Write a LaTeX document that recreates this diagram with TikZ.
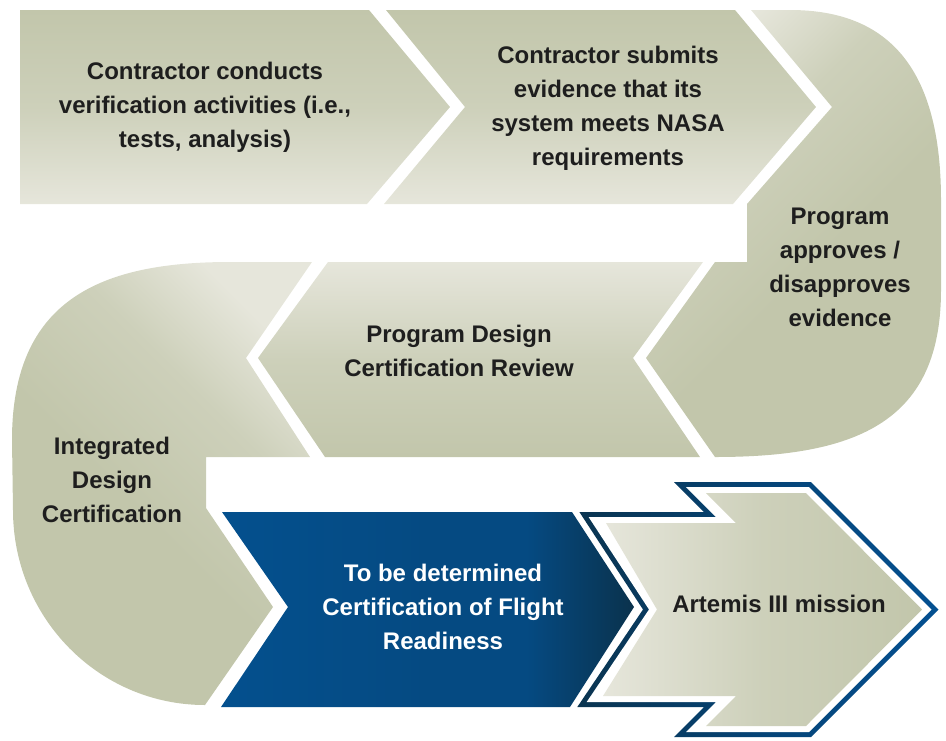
\documentclass[tikz,border=0pt]{standalone}
\usepackage{fontspec}
\setmainfont{Liberation Sans}
\definecolor{olD}{RGB}{194,198,171}
\definecolor{olL}{RGB}{230,230,219}
\definecolor{olM}{RGB}{205,208,186}
\definecolor{txt}{RGB}{30,30,30}
\definecolor{blL}{RGB}{4,80,142}
\definecolor{blM}{RGB}{5,74,130}
\definecolor{blR}{RGB}{10,50,76}
\definecolor{ouL}{RGB}{10,52,80}
\definecolor{ouM}{RGB}{6,68,118}
\definecolor{ouR}{RGB}{4,80,145}
\pgfdeclareverticalshading{oldiag}{100bp}{color(0bp)=(olD); color(25bp)=(olD);
  color(45bp)=(olD); color(62bp)=(olM); color(75bp)=(olL); color(100bp)=(olL)}
\pgfdeclarehorizontalshading{bluebar}{100bp}{color(0bp)=(blL); color(25bp)=(blL);
  color(50bp)=(blM); color(62bp)=(blM); color(75bp)=(blR); color(100bp)=(blR)}
\begin{document}
\begin{tikzpicture}[x=1pt,y=-1pt,
  lbl/.style={align=center, font=\fontsize{24}{34}\selectfont\bfseries, text=txt, inner sep=0pt},
  wlbl/.style={lbl, text=white}]
\useasboundingbox (0,0) rectangle (946,740);
% step 1
\shade[top color=olD, bottom color=olL, middle color=olM]
  (20,10) -- (369,10) -- (450,107) -- (367,204) -- (20,204) -- cycle;
% step 2
\shade[top color=olD, bottom color=olL, middle color=olM]
  (386,10) -- (735,10) -- (816,107) -- (733,204) -- (384,204) -- (465,107) -- cycle;
% step 3 (right U-turn)
\shade[shading=oldiag, shading angle=45]
  (751,10) -- (790,10) .. controls (890,10) and (941,70) .. (941,200) -- (941,290)
  .. controls (941,420) and (860,457) .. (715,457) -- (646,358) -- (715,262)
  -- (747,262) -- (747,204) -- (832,107) -- cycle;
% step 4
\shade[top color=olL, bottom color=olD, middle color=olM]
  (328,262) -- (703,262) -- (633,358) -- (700,457) -- (325,457) -- (258,358) -- cycle;
% step 5 (left U-turn)
\shade[shading=oldiag, shading angle=-45]
  (230,262) -- (312,262) -- (246,358) -- (310,457) -- (206,457) -- (206,508)
  -- (273,607) -- (205,705) .. controls (99,705) and (13,618) .. (13,510)
  -- (12,440) .. controls (12,300) and (100,262) .. cycle;
% step 6 (blue)
\shade[shading=bluebar]
  (222,512) -- (572,512) -- (634,607) -- (570,707) -- (221,707) -- (288,607) -- cycle;
% step 7 (Artemis arrow): outline band, white gap, beige fill
\shade[left color=ouL, right color=ouR, middle color=ouM]
  (579.4,512) -- (704,512) -- (674,482) -- (811,482) -- (938.5,609.5) -- (811,737)
  -- (674,737) -- (704,707) -- (577.3,707) -- (643,609.5) -- cycle;
\fill[white]
  (588.6,517) -- (716,517) -- (686,487) -- (809,487) -- (931.5,609.5) -- (809,732)
  -- (686,732) -- (716,702) -- (586.7,702) -- (649,609.5) -- cycle;
\shade[left color=olL, right color=olD, middle color=olM]
  (606,523) -- (736,523) -- (706,493) -- (806,493) -- (922,609.5) -- (806,726)
  -- (706,726) -- (736,696) -- (603,696) -- (657,609.5) -- cycle;
% labels
\node[lbl] (t1) at (205,107) {Contractor conducts\\verification activities (i.e.,\\tests, analysis)};
\node[lbl] (t2) at (608,108) {Contractor submits\\evidence that its\\system meets NASA\\requirements};
\node[lbl] (t3) at (840,267) {Program\\approves /\\disapproves\\evidence};
\node[lbl] (t4) at (459,351) {Program Design\\Certification Review};
\node[lbl] (t5) at (112,480) {Integrated\\Design\\Certification};
\node[wlbl] (t6) at (443,607) {To be determined\\Certification of Flight\\Readiness};
\node[lbl] (t7) at (779,604) {Artemis III mission};
\end{tikzpicture}
\end{document}
